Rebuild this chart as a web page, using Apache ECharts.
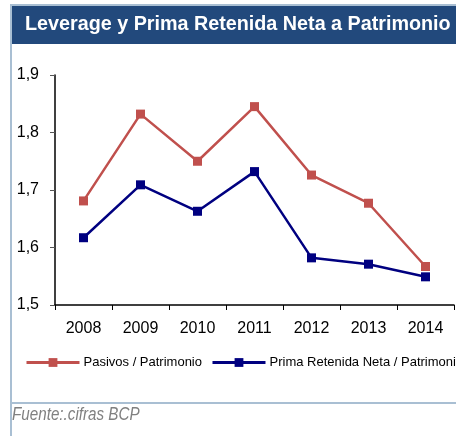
<!DOCTYPE html>
<html>
<head>
<meta charset="utf-8">
<script src="https://cdn.jsdelivr.net/npm/echarts@6/dist/echarts.min.js"></script>
<style>
    html, body { margin: 0; padding: 0; background: #fff; }
    #chart { width: 456px; height: 436px; }
</style>
</head>
<body>
<div id="chart"></div>
<script>
// data
var years = ['2008', '2009', '2010', '2011', '2012', '2013', '2014'];
var pasivos = [1.681, 1.832, 1.750, 1.845, 1.726, 1.677, 1.567];
var prima = [1.617, 1.709, 1.663, 1.732, 1.582, 1.571, 1.549];
var seriesNames = ['Pasivos / Patrimonio', 'Prima Retenida Neta / Patrimonio'];

var font = '"Liberation Sans", Arial, sans-serif';
var borderColor = '#A9BFD3';

var chart = echarts.init(document.getElementById('chart'));
chart.setOption({
    animation: false,
    backgroundColor: '#fff',
    graphic: [
        // title bar
        { type: 'rect', shape: { x: 12, y: 6, width: 444, height: 38 }, style: { fill: '#22497C' } },
        // frame lines
        { type: 'rect', shape: { x: 11, y: 4, width: 445, height: 2 }, style: { fill: borderColor } },
        { type: 'rect', shape: { x: 10, y: 4, width: 2, height: 432 }, style: { fill: borderColor } },
        { type: 'rect', shape: { x: 11, y: 402, width: 445, height: 2 }, style: { fill: borderColor } },
        // narrow fonts are not installed, so squeeze the text horizontally
        {
            type: 'text', x: 25, y: 14, scaleX: 0.94,
            style: { text: 'Leverage y Prima Retenida Neta a Patrimonio', fill: '#fff', font: 'bold 21px ' + font }
        },
        {
            type: 'text', x: 12, y: 406, scaleX: 0.845,
            style: { text: 'Fuente:.cifras BCP', fill: '#808080', font: 'italic 18px ' + font }
        }
    ],
    legend: {
        left: 20,
        top: 351,
        width: 1000,
        itemWidth: 53,
        itemHeight: 11,
        itemGap: 9,
        lineStyle: { width: 3 },
        textStyle: { fontFamily: font, fontSize: 13, color: '#000', padding: [0, 0, 0, -1] },
        data: seriesNames
    },
    grid: { left: 55, right: 2, top: 75, bottom: 131 },
    xAxis: {
        type: 'category',
        data: years,
        boundaryGap: true,
        axisLine: { lineStyle: { color: '#000', width: 1.5 } },
        axisTick: { show: true, length: 5, lineStyle: { color: '#000' } },
        axisLabel: { fontFamily: font, fontSize: 16, color: '#000', margin: 16 },
        splitLine: { show: false }
    },
    yAxis: {
        type: 'value',
        min: 1.5,
        max: 1.9,
        interval: 0.1,
        axisLine: { show: true, lineStyle: { color: '#000', width: 1.5 } },
        axisTick: { show: true, length: 5, lineStyle: { color: '#555' } },
        axisLabel: {
            fontFamily: font, fontSize: 16, color: '#000', margin: 16,
            formatter: function (v) { return v.toFixed(1).replace('.', ','); }
        },
        splitLine: { show: false }
    },
    series: [
        {
            name: seriesNames[0],
            type: 'line',
            data: pasivos,
            symbol: 'rect',
            symbolSize: 9,
            itemStyle: { color: '#C0504D' },
            lineStyle: { color: '#C0504D', width: 2.5 }
        },
        {
            name: seriesNames[1],
            type: 'line',
            data: prima,
            symbol: 'rect',
            symbolSize: 9,
            itemStyle: { color: '#000080' },
            lineStyle: { color: '#000080', width: 2.5 }
        }
    ]
});
</script>
</body>
</html>
